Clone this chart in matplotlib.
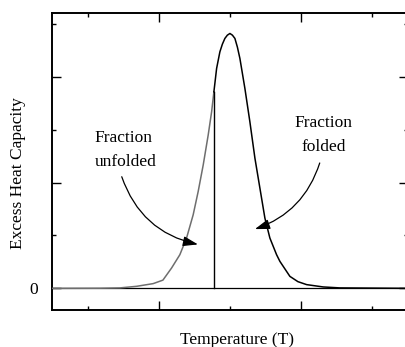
"""
DSC-style excess heat capacity peak with folded / unfolded fractions.
Saves out.png
"""

import numpy as np
import matplotlib
matplotlib.use("Agg")
import matplotlib.pyplot as plt

plt.rcParams["font.family"] = ["Liberation Serif", "DejaVu Serif"]

# ─── Data ─────────────────────────────────────────────────────────────────────
# Temperature axis runs in arbitrary units (minor tick spacing = 1)
temp = [0.500, 1.173, 1.454, 1.688, 1.921, 2.058, 2.180, 2.296, 2.390, 2.483,
        2.553, 2.624, 2.694, 2.742, 2.774, 2.812, 2.858, 2.893, 2.928, 2.963,
        2.999, 3.034, 3.069, 3.104, 3.139, 3.209, 3.279, 3.350, 3.420, 3.490,
        3.560, 3.654, 3.701, 3.841, 3.954, 4.076, 4.309, 4.543, 5.500]
cp = [0.000, 0.002, 0.008, 0.038, 0.089, 0.155, 0.385, 0.636, 0.951, 1.391,
      1.830, 2.334, 2.900, 3.340, 3.717, 4.158, 4.472, 4.617, 4.725, 4.787,
      4.819, 4.787, 4.725, 4.560, 4.347, 3.781, 3.151, 2.460, 1.894, 1.328,
      0.951, 0.636, 0.509, 0.226, 0.126, 0.070, 0.026, 0.008, 0.000]

# Dividing temperature between the two fractions (index into temp)
split_idx = 14

x_major = [2, 4]
x_minor = [1, 3, 5]
y_major = [0, 2, 4]
y_minor = [1, 3, 5]
y_major_labels = ["0", "", ""]

temp = np.array(temp)
cp = np.array(cp)
t_split, cp_split = temp[split_idx], cp[split_idx]

# ─── Figure ───────────────────────────────────────────────────────────────────
fig = plt.figure(figsize=(4.06, 3.47), dpi=100)
ax = fig.add_axes([0.128, 0.1066, 0.877, 0.855])

# zero baseline
ax.axhline(0, color="black", linewidth=0.9, zorder=2)

# low-temperature side (grey) and high-temperature side (black)
ax.plot(temp[:split_idx + 1], cp[:split_idx + 1], color="#6e6e6e",
        linewidth=1.1, zorder=3, solid_joinstyle="round")
ax.plot(temp[split_idx:], cp[split_idx:], color="black", linewidth=1.1,
        zorder=3, solid_joinstyle="round")

# split marker
ax.plot([t_split, t_split], [0, cp_split], color="black", linewidth=1.0,
        zorder=3)

# annotations
ax.text(1.10, 2.61, "Fraction\nunfolded", fontsize=12.5, ha="left",
        va="center", linespacing=1.7)
ax.text(4.31, 2.90, "Fraction\nfolded", fontsize=12.5, ha="center",
        va="center", linespacing=1.7)

arrow_kw = dict(arrowstyle="-|>,head_length=0.6,head_width=0.2",
                color="black", linewidth=0.9, mutation_scale=15,
                shrinkA=0, shrinkB=0)
ax.annotate("", xy=(2.55, 0.83), xytext=(1.48, 2.11),
            arrowprops=dict(connectionstyle="arc3,rad=0.28", **arrow_kw))
ax.annotate("", xy=(3.35, 1.12), xytext=(4.26, 2.37),
            arrowprops=dict(connectionstyle="arc3,rad=-0.25", **arrow_kw))

# ─── Axes ─────────────────────────────────────────────────────────────────────
ax.set_xlim(0.5, 5.5)
ax.set_ylim(-0.41, 5.2)

ax.set_xticks(x_major)
ax.set_xticklabels([])
ax.set_xticks(x_minor, minor=True)
ax.set_yticks(y_major)
ax.set_yticklabels(y_major_labels)
ax.set_yticks(y_minor, minor=True)

ax.tick_params(which="both", direction="in", top=True, right=True,
               width=1.0, labelsize=12.5, pad=10)
ax.tick_params(which="major", length=6.5)
ax.tick_params(which="minor", length=3.2)

for s in ax.spines.values():
    s.set_linewidth(1.4)

ax.set_ylabel("Excess Heat Capacity", fontsize=12.5, va="center")
ax.yaxis.set_label_coords(-0.095, 0.461)
fig.text(236.7 / 406, 1 - 340 / 347, "Temperature (T)", fontsize=12.5,
         ha="center", va="center")

fig.savefig("out.png", dpi=100, facecolor="white")
plt.close(fig)
